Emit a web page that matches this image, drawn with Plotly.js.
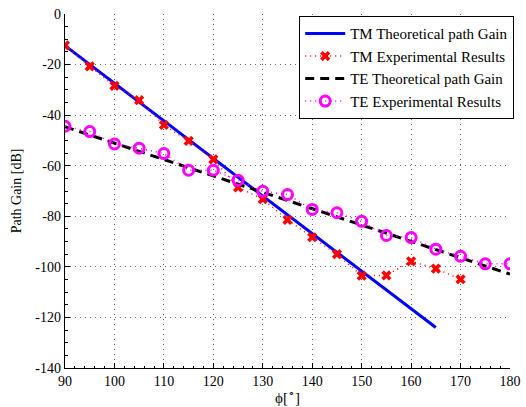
<!DOCTYPE html>
<html>
<head>
<meta charset="utf-8">
<script src="https://cdn.plot.ly/plotly-3.0.1.min.js"></script>
<style>html,body{margin:0;padding:0;background:#fff;}#chart{width:526px;height:407px;}</style>
</head>
<body>
<div id="chart"></div>
<script>
// Data
var tmTheoryAngle = [90, 165];
var tmTheoryGain  = [-12.5, -124];
var tmExpAngle = [90, 95, 100, 105, 110, 115, 120, 125, 130, 135, 140, 145, 150, 155, 160, 165, 170];
var tmExpGain  = [-12.4, -20.7, -28.4, -34.1, -43.9, -50.2, -57.5, -68.6, -73.2, -81.4, -88.3, -95.0, -103.5, -103.4, -97.8, -100.7, -104.9];
var teTheoryAngle = [90, 180];
var teTheoryGain  = [-44.6, -102.9];
var teExpAngle = [90, 95, 100, 105, 110, 115, 120, 125, 130, 135, 140, 145, 150, 155, 160, 165, 170, 175, 180];
var teExpGain  = [-44.4, -46.5, -51.4, -53.1, -55.2, -61.8, -61.8, -65.7, -70.1, -71.4, -77.3, -78.6, -82.0, -87.6, -88.4, -93.0, -95.8, -98.8, -98.8];
var yTicks = [0, -20, -40, -60, -80, -100, -120, -140];
var yTickText = ['0', '-20', '-40', '-60', '-80', '-100', '-120', '-140'];
var xTicks = [90, 100, 110, 120, 130, 140, 150, 160, 170, 180];

var FONT = '"Liberation Serif", "Times New Roman", Times, serif';

var traces = [
  {x: tmTheoryAngle, y: tmTheoryGain, mode: 'lines', name: 'TM Theoretical path Gain',
   line: {color: '#0000ff', width: 3}},
  {x: tmExpAngle, y: tmExpGain, mode: 'lines+markers', name: 'TM Experimental Results',
   line: {color: '#ff0000', width: 1.5, dash: '1px,4px'},
   marker: {symbol: 'x', size: 9, color: '#ff0000', line: {width: 0}}},
  {x: teTheoryAngle, y: teTheoryGain, mode: 'lines', name: 'TE Theoretical path Gain',
   line: {color: '#000000', width: 3, dash: '9px,6px'}},
  {x: teExpAngle, y: teExpGain, mode: 'lines+markers', name: 'TE Experimental Results',
   line: {color: '#ff00ff', width: 1.5, dash: '1px,4px'},
   marker: {symbol: 'circle-open', size: 10, color: '#ff00ff', line: {width: 3, color: '#ff00ff'}}}
];

var layout = {
  width: 526, height: 407,
  margin: {l: 65, r: 13, t: 14, b: 39},
  paper_bgcolor: '#ffffff', plot_bgcolor: '#ffffff',
  font: {family: FONT, size: 14, color: '#000'},
  showlegend: true,
  legend: {x: 1.009, y: 0.994, xanchor: 'right', yanchor: 'top',
           bgcolor: '#ffffff', bordercolor: '#000', borderwidth: 1.2,
           font: {family: FONT, size: 15, color: '#000'},
           tracegroupgap: 0, itemwidth: 40},
  xaxis: {range: [90, 180], tickvals: xTicks, showline: true, linecolor: '#000', linewidth: 1.2,
          mirror: false, ticks: 'inside', ticklen: 5, tickcolor: '#000',
          showgrid: true, gridcolor: '#666', griddash: '1px,4px', gridwidth: 1, zeroline: false,
          minor: {ticks: 'inside', ticklen: 2.5, dtick: 2, tickcolor: '#000', showgrid: false},
          title: {text: 'ϕ[<sup>∘</sup>]', font: {family: FONT, size: 15}, standoff: 4},
          tickfont: {family: FONT, size: 14}},
  yaxis: {range: [-140, 0], tickvals: yTicks, ticktext: yTickText, showline: true, linecolor: '#000', linewidth: 1.2,
          mirror: false, ticks: 'inside', ticklen: 5, tickcolor: '#000',
          showgrid: true, gridcolor: '#666', griddash: '1px,4px', gridwidth: 1, zeroline: false,
          minor: {ticks: 'inside', ticklen: 2.5, dtick: 5, tickcolor: '#000', showgrid: false},
          title: {text: 'Path Gain [dB]', font: {family: FONT, size: 14}, standoff: 10},
          tickfont: {family: FONT, size: 14}}
};

Plotly.newPlot('chart', traces, layout, {displayModeBar: false, staticPlot: true});
</script>
</body>
</html>
